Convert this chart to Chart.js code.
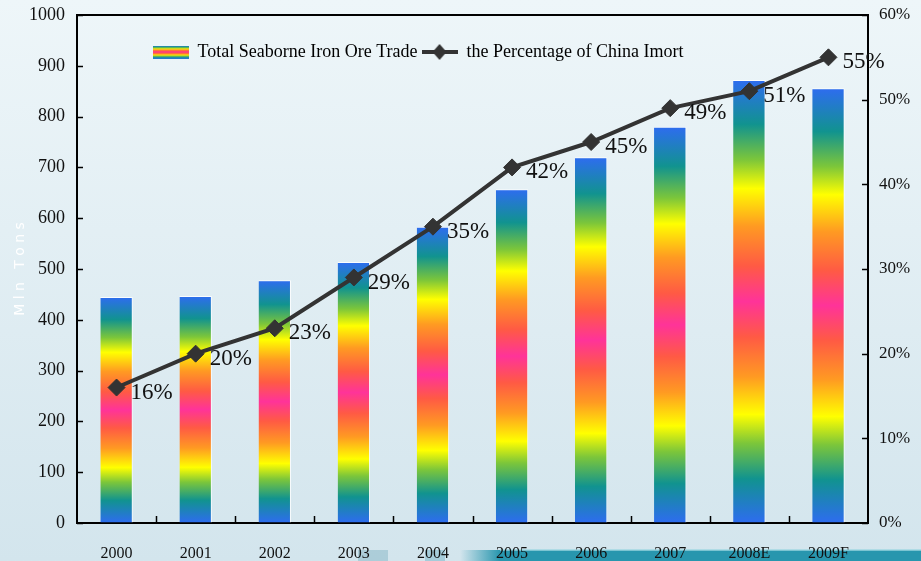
<!DOCTYPE html>
<html>
<head>
<meta charset="utf-8">
<title>Total Seaborne Iron Ore Trade</title>
<script src="https://cdn.jsdelivr.net/npm/chart.js@4.4.0/dist/chart.umd.min.js"></script>
<style>
  html, body { margin: 0; padding: 0; background: #e2eef3; }
  #wrap { width: 921px; height: 561px; }
</style>
</head>
<body>
<div id="wrap"><canvas id="oreChart" width="921" height="561"></canvas></div>
<script>
// data
const years = ['2000', '2001', '2002', '2003', '2004', '2005', '2006', '2007', '2008E', '2009F'];
const tradeMlnTons = [445, 447, 478, 514, 583, 657, 720, 780, 872, 856];
const chinaSharePct = [16, 20, 23, 29, 35, 42, 45, 49, 51, 55];
const tonsAxis = { min: 0, max: 1000, step: 100 };
const pctAxis = { min: 0, max: 60, step: 10 };

// rainbow used inside every bar (top -> bottom, symmetric)
const rainbowStops = [
    [0.00, '#2e6cf0'],
    [0.10, '#11938f'],
    [0.18, '#7cc63a'],
    [0.245, '#ffff00'],
    [0.33, '#ff9a22'],
    [0.42, '#ff5a44'],
    [0.50, '#ff3399'],
    [0.58, '#ff5a44'],
    [0.67, '#ff9a22'],
    [0.755, '#ffff00'],
    [0.82, '#7cc63a'],
    [0.90, '#11938f'],
    [1.00, '#2e6cf0']
];

function barGradient(context) {
    const chart = context.chart;
    const y = chart.scales.y;
    if (!y || context.type !== 'data') return '#ff3399';
    const top = y.getPixelForValue(context.raw);
    const base = y.getPixelForValue(0);
    const g = chart.ctx.createLinearGradient(0, top, 0, base);
    rainbowStops.forEach(s => g.addColorStop(s[0], s[1]));
    return g;
}

// legend swatches
function barSwatch() {
    const c = document.createElement('canvas');
    c.width = 36; c.height = 13;
    const x = c.getContext('2d');
    const g = x.createLinearGradient(0, 0, 0, 13);
    rainbowStops.forEach(s => g.addColorStop(s[0], s[1]));
    x.fillStyle = g;
    x.fillRect(0, 0, 36, 13);
    return c;
}
function lineSwatch() {
    const c = document.createElement('canvas');
    c.width = 36; c.height = 18;
    const x = c.getContext('2d');
    x.strokeStyle = '#333';
    x.lineWidth = 4;
    x.beginPath(); x.moveTo(0, 9); x.lineTo(36, 9); x.stroke();
    x.fillStyle = '#333';
    x.beginPath(); x.moveTo(18, 1); x.lineTo(25, 9); x.lineTo(18, 17); x.lineTo(11, 9); x.closePath(); x.fill();
    return c;
}
const swatches = [barSwatch(), lineSwatch()];

// background + bottom band
const slideBackground = {
    id: 'slideBackground',
    beforeDraw(chart) {
        const { ctx, width, height } = chart;
        ctx.save();
        const g = ctx.createLinearGradient(0, 0, 0, height);
        g.addColorStop(0, '#eef6f9');
        g.addColorStop(1, '#d3e5ed');
        ctx.fillStyle = g;
        ctx.fillRect(0, 0, width, height);
        // decorative band at the bottom of the slide
        ctx.fillStyle = 'rgba(140,185,200,0.55)';
        ctx.fillRect(358, 550, 30, 11);
        ctx.fillStyle = 'rgba(120,180,200,0.5)';
        ctx.fillRect(425, 550, 20, 11);
        const b = ctx.createLinearGradient(460, 0, 500, 0);
        b.addColorStop(0, 'rgba(40,150,174,0)');
        b.addColorStop(1, 'rgba(40,150,174,1)');
        ctx.fillStyle = b;
        ctx.fillRect(460, 550, width - 460, 11);
        ctx.fillStyle = 'rgba(160,215,225,0.7)';
        ctx.fillRect(500, 549, width - 500, 2);
        ctx.restore();
    }
};

// keep the legend inside the plot, like the original slide
const legendInside = {
    id: 'legendInside',
    afterInit(chart) {
        const lg = chart.legend;
        const fit = lg.fit;
        lg.fit = function () { fit.call(this); this.height = 0; };
    },
    afterLayout(chart) {
        const lg = chart.legend;
        lg.left = 148.5;
        lg.right = 921;
        lg.top = 39;
        lg.bottom = 75;
    }
};

// frame top line, inside tick marks, percentage labels
const frameAndLabels = {
    id: 'frameAndLabels',
    afterDatasetsDraw(chart) {
        const { ctx, chartArea: a, scales } = chart;
        ctx.save();
        ctx.strokeStyle = '#000';
        ctx.lineWidth = 2;
        ctx.beginPath();
        ctx.moveTo(a.left - 1, a.top);
        ctx.lineTo(a.right + 1, a.top);
        ctx.stroke();

        ctx.lineWidth = 1.5;
        ctx.beginPath();
        scales.y.ticks.forEach(t => {
            const py = Math.round(scales.y.getPixelForValue(t.value)) + 0.5;
            ctx.moveTo(a.left, py); ctx.lineTo(a.left + 6, py);
        });
        scales.y1.ticks.forEach(t => {
            const py = Math.round(scales.y1.getPixelForValue(t.value)) + 0.5;
            ctx.moveTo(a.right, py); ctx.lineTo(a.right - 6, py);
        });
        for (let i = 1; i < years.length; i++) {
            const px = Math.round((scales.x.getPixelForValue(i - 1) + scales.x.getPixelForValue(i)) / 2) + 0.5;
            ctx.moveTo(px, a.bottom); ctx.lineTo(px, a.bottom - 7);
        }
        ctx.stroke();

        const meta = chart.getDatasetMeta(1);
        ctx.fillStyle = '#111';
        ctx.font = '23px "Liberation Serif", "Times New Roman", serif';
        ctx.textAlign = 'left';
        ctx.textBaseline = 'middle';
        meta.data.forEach((pt, i) => {
            ctx.fillText(chinaSharePct[i] + '%', pt.x + 14, pt.y + 5);
        });
        ctx.restore();
    }
};

Chart.defaults.font.family = '"Liberation Serif", "Times New Roman", serif';
Chart.defaults.color = '#111';

const oreChart = new Chart(document.getElementById('oreChart').getContext('2d'), {
    type: 'bar',
    data: {
        labels: years,
        datasets: [
            {
                type: 'bar',
                label: 'Total Seaborne Iron Ore Trade',
                data: tradeMlnTons,
                yAxisID: 'y',
                order: 1,
                backgroundColor: barGradient,
                borderColor: 'rgba(255,255,255,0.85)',
                borderWidth: { top: 1, right: 1, left: 0, bottom: 0 },
                borderSkipped: 'start',
                barPercentage: 0.41,
                categoryPercentage: 1
            },
            {
                type: 'line',
                label: 'the Percentage of China Imort',
                data: chinaSharePct,
                yAxisID: 'y1',
                order: 0,
                borderColor: '#333333',
                borderWidth: 4,
                tension: 0,
                pointStyle: 'rectRot',
                pointRadius: 8.5,
                pointBackgroundColor: '#333333',
                pointBorderColor: '#333333',
                pointBorderWidth: 1
            }
        ]
    },
    options: {
        responsive: false,
        animation: false,
        layout: { padding: { top: 15, left: 0, right: 0, bottom: 0 } },
        plugins: {
            tooltip: { enabled: false },
            legend: {
                position: 'top',
                align: 'start',
                labels: {
                    usePointStyle: true,
                    pointStyleWidth: 36,
                    padding: 4,
                    color: '#111',
                    font: { size: 18 },
                    generateLabels: chart => chart.data.datasets.map((ds, i) => ({
                        text: ds.label,
                        pointStyle: swatches[i],
                        datasetIndex: i,
                        hidden: false,
                        lineWidth: 0,
                        fillStyle: 'transparent',
                        strokeStyle: 'transparent'
                    }))
                }
            }
        },
        scales: {
            x: {
                grid: { display: true, drawOnChartArea: false, drawTicks: false },
                border: { display: true, color: '#000', width: 2 },
                ticks: { padding: 21, font: { size: 16 }, color: '#111', maxRotation: 0 },
                afterFit: s => { s.height = 38; }
            },
            y: {
                position: 'left',
                min: tonsAxis.min,
                max: tonsAxis.max,
                grid: { display: true, drawOnChartArea: false, drawTicks: false },
                border: { display: true, color: '#000', width: 2 },
                ticks: { stepSize: tonsAxis.step, padding: 12, font: { size: 18 }, color: '#111', callback: v => String(v) },
                title: {
                    display: true,
                    text: 'M l n   T o n s',
                    color: '#ffffff',
                    padding: { top: 12, bottom: 0 },
                    font: { family: '"DejaVu Sans", sans-serif', size: 14 }
                },
                afterFit: s => { s.width = 77; s.paddingTop = 0; s.paddingBottom = 0; }
            },
            y1: {
                position: 'right',
                min: pctAxis.min,
                max: pctAxis.max,
                grid: { display: true, drawOnChartArea: false, drawTicks: false },
                border: { display: true, color: '#000', width: 2 },
                ticks: { stepSize: pctAxis.step, padding: 11, font: { size: 17 }, color: '#111', callback: v => v + '%' },
                afterFit: s => { s.width = 53; s.paddingTop = 0; s.paddingBottom = 0; }
            }
        }
    },
    plugins: [slideBackground, legendInside, frameAndLabels]
});
</script>
</body>
</html>
